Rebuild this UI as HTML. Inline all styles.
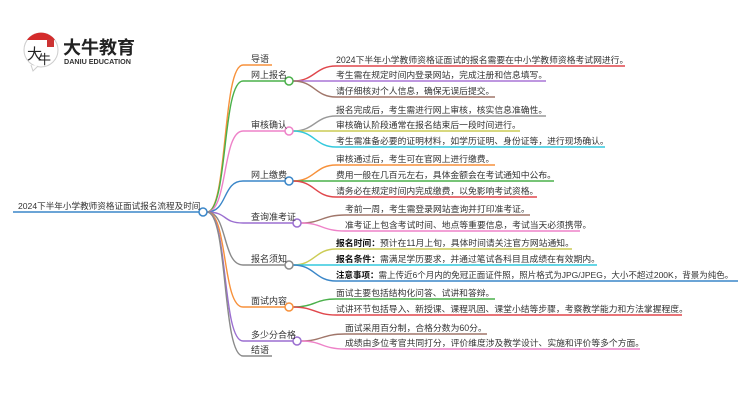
<!DOCTYPE html>
<html><head><meta charset="utf-8"><style>
html,body{margin:0;padding:0;background:#fff;}
svg text{font-family:"Liberation Sans","Noto Sans CJK SC",sans-serif;}
</style></head><body>
<svg width="750" height="410" viewBox="0 0 750 410" xmlns="http://www.w3.org/2000/svg">
<rect width="750" height="410" fill="#fff"/>
<!-- logo -->
<circle cx="41" cy="50" r="17" fill="#fff" stroke="#ccc" stroke-width="1"/>
<path d="M27 40 A17 17 0 0 1 55 40 Z" fill="#d42b2b"/>
<path d="M31 65 L33 71 L38 66" fill="#fff" stroke="#ccc" stroke-width="1"/>
<text x="27" y="59" font-size="15" fill="#222" font-family="Liberation Serif,'Noto Serif CJK SC',serif">大</text>
<text x="38" y="64" font-size="13" fill="#222">牛</text>
<rect x="47" y="39" width="7" height="8" fill="#c33"/>
<text x="63" y="54" font-size="18" font-weight="bold" fill="#222">大牛教育</text>
<text x="64" y="64" font-size="7.2" font-weight="bold" fill="#333">DANIU EDUCATION</text>
<g fill="none" stroke-width="1.4">
<path d="M13 212 L199 212" stroke="#3a86c8"/>
<path d="M207 212 C228 212,222 65,243 65 L272 65" stroke="#f7913b"/>
<path d="M207 212 C228 212,222 81,243 81 L285 81" stroke="#4ab04a"/>
<path d="M207 212 C228 212,222 131,243 131 L285 131" stroke="#ee82c8"/>
<path d="M207 212 C228 212,222 181,243 181 L285 181" stroke="#3a86c8"/>
<path d="M207 212 C228 212,222 223,243 223 L293 223" stroke="#9b6fd0"/>
<path d="M207 212 C228 212,222 265,243 265 L285 265" stroke="#8a8a8a"/>
<path d="M207 212 C228 212,222 307,243 307 L285 307" stroke="#f7913b"/>
<path d="M207 212 C228 212,222 341,243 341 L293 341" stroke="#9b6fd0"/>
<path d="M207 212 C228 212,222 356,243 356 L272 356" stroke="#8a8a8a"/>
<path d="M293 81 C315 81,315 66,336 66 L625 66" stroke="#e0474c"/>
<path d="M293 81 L546 81" stroke="#a875d6"/>
<path d="M293 81 C315 81,315 97,336 97 L495 97" stroke="#a0766a"/>
<path d="M293 131 C315 131,315 116,336 116 L546 116" stroke="#999"/>
<path d="M293 131 L520 131" stroke="#cccc55"/>
<path d="M293 131 C315 131,315 147,336 147 L605 147" stroke="#33c9dd"/>
<path d="M293 181 C315 181,315 165,336 165 L495 165" stroke="#f7913b"/>
<path d="M293 181 L554 181" stroke="#4ab04a"/>
<path d="M293 181 C315 181,315 197,336 197 L537 197" stroke="#e0474c"/>
<path d="M301 223 C322 223,322 215,345 215 L530 215" stroke="#a0766a"/>
<path d="M301 223 C322 223,322 231,345 231 L580 231" stroke="#ee82c8"/>
<path d="M293 265 C315 265,315 249,336 249 L572 249" stroke="#cccc55"/>
<path d="M293 265 L597 265" stroke="#33c9dd"/>
<path d="M293 265 C315 265,315 281,336 281 L738 281" stroke="#3a86c8"/>
<path d="M293 307 C315 307,315 299,336 299 L495 299" stroke="#4ab04a"/>
<path d="M293 307 C315 307,315 315,336 315 L682 315" stroke="#e0474c"/>
<path d="M301 341 C322 341,322 334,345 334 L487 334" stroke="#a0766a"/>
<path d="M301 341 C322 341,322 349,345 349 L640 349" stroke="#ee82c8"/>
</g>
<g fill="#fff" stroke-width="1.5">
<circle cx="203" cy="212" r="4" stroke="#3a86c8"/>
<circle cx="289" cy="81" r="4" stroke="#4ab04a"/>
<circle cx="289" cy="131" r="4" stroke="#ee82c8"/>
<circle cx="289" cy="181" r="4" stroke="#3a86c8"/>
<circle cx="297" cy="223" r="4" stroke="#9b6fd0"/>
<circle cx="289" cy="265" r="4" stroke="#8a8a8a"/>
<circle cx="289" cy="307" r="4" stroke="#f7913b"/>
<circle cx="297" cy="341" r="4" stroke="#9b6fd0"/>
</g>
<g font-size="8.8" fill="#333">
<text x="18" y="209" font-size="8.6">2024下半年小学教师资格证面试报名流程及时间</text>
<g font-size="9">
<text x="251" y="62">导语</text>
<text x="251" y="78">网上报名</text>
<text x="251" y="128">审核确认</text>
<text x="251" y="178">网上缴费</text>
<text x="251" y="220">查询准考证</text>
<text x="251" y="262">报名须知</text>
<text x="251" y="304">面试内容</text>
<text x="251" y="338">多少分合格</text>
<text x="251" y="353">结语</text>
</g>
<text x="336" y="63">2024下半年小学教师资格证面试的报名需要在中小学教师资格考试网进行。</text>
<text x="336" y="78">考生需在规定时间内登录网站，完成注册和信息填写。</text>
<text x="336" y="94">请仔细核对个人信息，确保无误后提交。</text>
<text x="336" y="113">报名完成后，考生需进行网上审核，核实信息准确性。</text>
<text x="336" y="128">审核确认阶段通常在报名结束后一段时间进行。</text>
<text x="336" y="144">考生需准备必要的证明材料，如学历证明、身份证等，进行现场确认。</text>
<text x="336" y="162">审核通过后，考生可在官网上进行缴费。</text>
<text x="336" y="178">费用一般在几百元左右，具体金额会在考试通知中公布。</text>
<text x="336" y="194">请务必在规定时间内完成缴费，以免影响考试资格。</text>
<text x="345" y="212">考前一周，考生需登录网站查询并打印准考证。</text>
<text x="345" y="228">准考证上包含考试时间、地点等重要信息，考试当天必须携带。</text>
<text x="336" y="246"><tspan font-weight="bold" fill="#111">报名时间：</tspan>预计在11月上旬，具体时间请关注官方网站通知。</text>
<text x="336" y="262"><tspan font-weight="bold" fill="#111">报名条件：</tspan>需满足学历要求，并通过笔试各科目且成绩在有效期内。</text>
<text x="336" y="278" font-size="8.5"><tspan font-weight="bold" fill="#111">注意事项：</tspan>需上传近6个月内的免冠正面证件照，照片格式为JPG/JPEG，大小不超过200K，背景为纯色。</text>
<text x="336" y="296">面试主要包括结构化问答、试讲和答辩。</text>
<text x="336" y="312">试讲环节包括导入、新授课、课程巩固、课堂小结等步骤，考察教学能力和方法掌握程度。</text>
<text x="345" y="331">面试采用百分制，合格分数为60分。</text>
<text x="345" y="346">成绩由多位考官共同打分，评价维度涉及教学设计、实施和评价等多个方面。</text>
</g>
</svg>
</body></html>
